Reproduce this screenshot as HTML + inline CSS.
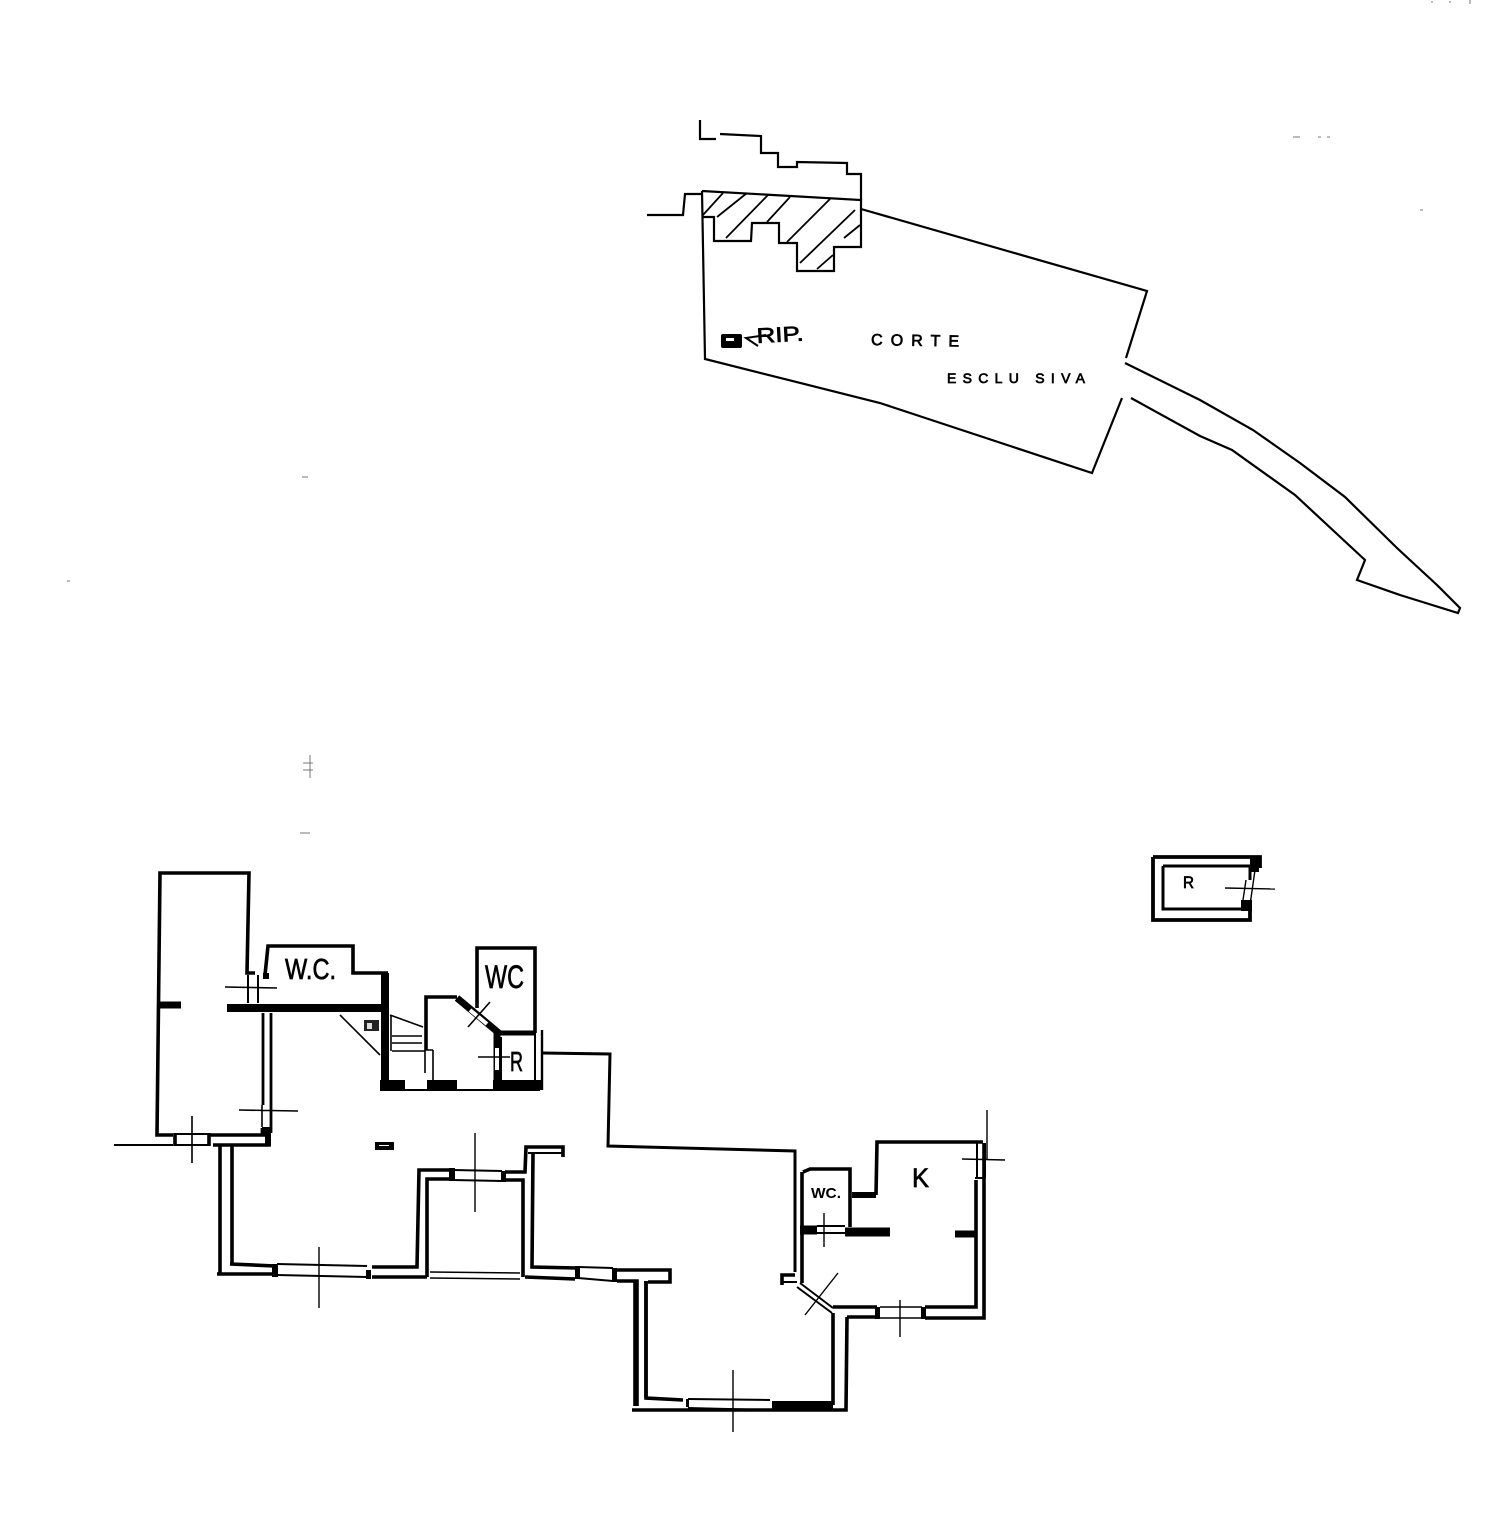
<!DOCTYPE html>
<html><head><meta charset="utf-8"><style>
html,body{margin:0;padding:0;background:#fff}
svg{display:block}
.a{fill:none;stroke:#000;stroke-width:2.2;stroke-linejoin:miter}
.w{fill:none;stroke:#000;stroke-width:3.6}
.m{fill:none;stroke:#000;stroke-width:2}
.t{fill:none;stroke:#000;stroke-width:1.4}
.s{fill:none;stroke:#777;stroke-width:1}
.l{stroke:#000;stroke-width:.7}
text{font-family:"Liberation Sans",sans-serif;fill:#000}
</style></head><body>
<svg width="1485" height="1535" viewBox="0 0 1485 1535" xmlns="http://www.w3.org/2000/svg">
<!-- specks -->
<path class="s" d="M1293 137h7M1318 137h3M1327 137h3M1420 210h3M302 477h6M67 581h3M300 833h10M310 755v23M303 763h10M303 770h10M1432 1v2M1450 1v2M1470 0v4"/>
<!-- SITE -->
<g class="a">
<path d="M700 120V139H716M720 134L761 136V153H778V167H797V162L847 163V174H861V200"/>
<path d="M647 215H683L685 194H702"/>
<path d="M702 191L861 200V247H834V271H797V243H779V223H752L751 241H714V217H702"/>
<path d="M702 191L705 359L880 403L1092 473L1122 398"/>
<path d="M861 209L1147 291L1126 358"/>
<path d="M703 215L723 193M717 217L747 193M726 238L768 195M767 222L790 197M787 242L830 199M800 263L855 210M817 269L833 255M844 238L860 225" stroke-width="1.8"/>
<!-- arrow -->
<path d="M1125 363L1200 400L1253 430L1300 463L1345 497L1397 548L1437 585L1460 608L1458 613L1400 595L1357 580L1365 560L1295 495L1232 450L1200 436L1131 398"/>
</g>
<rect x="721" y="334" width="21" height="14" rx="2" fill="#000"/>
<rect x="726" y="338" width="8" height="3" fill="#fff"/>
<path d="M766 335L746 338L758 346" class="m"/>
<text x="757" y="343" font-size="21" class="l" textLength="47" lengthAdjust="spacingAndGlyphs" transform="rotate(-3 757 343)">RIP.</text>
<text x="871" y="345" font-size="16" class="l" textLength="88" lengthAdjust="spacing" transform="rotate(1 871 345)">CORTE</text>
<text x="947" y="383" font-size="14" class="l" textLength="138" lengthAdjust="spacing">ESCLU SIVA</text>

<!-- PLAN: left room -->
<g class="w">
<path d="M267 1135H209M173 1135H157L160 873H249L247 973H255"/>
<path d="M114 1145H173" stroke-width="2"/>
<path d="M175 1134H209M175 1145H209" stroke-width="2"/>
<path d="M175 1133V1146M209 1133V1146"/>
<path d="M213 1145H269V1131"/>
<path d="M248 975V1003M258 975V1003" stroke-width="2"/>
<path d="M263 1013V1097M271 1013V1133M263 1097V1105M262 1128V1135" stroke-width="2.8"/>
<path d="M220 1146V1273M232 1146V1263"/>
<path d="M265 975L268 946H353V973H388"/>
</g>
<path d="M160 1005h21" stroke="#000" stroke-width="7" fill="none"/>
<path d="M227 1008H385" stroke="#000" stroke-width="8" fill="none"/>
<path d="M385 973V1087" stroke="#000" stroke-width="8" fill="none"/>
<rect x="263" y="973" width="6" height="6" fill="#000"/>
<rect x="262" y="1127" width="9" height="9" fill="#000"/>
<rect x="265" y="1130" width="6" height="16" fill="#000"/>
<path class="m" style="stroke-width:1.6" d="M225 987L277 988M239 1110L298 1111M262 1105V1127M192 1116V1163"/>
<path class="m" style="stroke-width:1.6" d="M340 1015L380 1055M390 1015L423 1027M392 1036H422M392 1043H422M392 1051H425M391 1016V1051"/>
<path class="m" style="stroke-width:1.6" d="M425 1050V1073M433 1050V1080M425 1050H433"/>
<rect x="364" y="1020" width="15" height="11" fill="#222"/>
<rect x="367" y="1023" width="5" height="6" fill="#ddd"/>
<rect x="375" y="1142" width="19" height="8" fill="#000"/>
<rect x="379" y="1145" width="10" height="1" fill="#fff"/>
<!-- stair / WC -->
<g class="w">
<path d="M426 1050V997H457"/>
<path d="M477 1008V948H535V1033"/>
<path d="M535 1033V1083" stroke-width="2"/>
<path d="M542 1030V1090" stroke-width="2.4"/>
<path d="M502 1081H535" stroke-width="2"/>
<path d="M501 1037V1081" stroke-width="2"/>
</g>
<path d="M457 998L500 1034" stroke="#000" stroke-width="7" fill="none"/>
<path d="M470 1010L487 1024" stroke="#fff" stroke-width="4" fill="none"/>
<path d="M500 1033H535" stroke="#000" stroke-width="5" fill="none"/>
<path d="M497 1033V1087" stroke="#000" stroke-width="7" fill="none"/>
<rect x="495" y="1048" width="4" height="22" fill="#fff"/>
<path d="M380 1085H405M427 1085H457M493 1085H542" stroke="#000" stroke-width="10" fill="none"/>
<path d="M380 1090H540" stroke="#000" stroke-width="2" fill="none"/>
<rect x="405" y="1081" width="22" height="7" rx="3" fill="#fff"/>
<path d="M478 1057H510M468 1027L490 1002" class="m" style="stroke-width:1.6"/>
<path d="M542 1053L610 1054L608 1146L795 1151V1272" class="a" style="stroke-width:3"/>
<text x="285" y="979" font-size="29" class="l" textLength="51" lengthAdjust="spacingAndGlyphs">W.C.</text>
<text x="485" y="988" font-size="32" class="l" textLength="39" lengthAdjust="spacingAndGlyphs">WC</text>
<text x="510" y="1071" font-size="28" class="l" textLength="13" lengthAdjust="spacingAndGlyphs">R</text>

<!-- bottom walls -->
<g class="w">
<path d="M217 1274H275M230 1264L275 1266"/>
<path d="M372 1267H417L419 1170H452"/>
<path d="M372 1277H427"/>
<path d="M427 1277V1179H452"/>
<path d="M505 1172H525L526 1147H563V1157"/>
<path d="M528 1153H562" stroke-width="2"/>
<path d="M505 1180H523V1277"/>
<path d="M533 1153L532 1267L577 1268M525 1277L575 1279"/>
<path d="M615 1270H670V1282H648M617 1281H637V1320V1406M646 1281V1398"/>
</g>
<rect x="272" y="1264" width="6" height="13" fill="#000"/>
<rect x="366" y="1270" width="5" height="9" fill="#000"/>
<rect x="449" y="1168" width="6" height="13" fill="#000"/>
<rect x="501" y="1171" width="5" height="11" fill="#000"/>
<rect x="575" y="1266" width="5" height="13" fill="#000"/>
<rect x="612" y="1268" width="5" height="14" fill="#000"/>
<g class="m">
<path d="M277 1264L367 1266M277 1275L367 1277"/>
<path d="M453 1170L502 1171M453 1180L502 1181"/>
<path d="M430 1272L520 1273M430 1278L520 1279" style="stroke-width:1.6"/>
<path d="M578 1267L613 1268M578 1278L613 1281"/>
</g>
<path d="M319 1247V1308M475 1133V1212" class="t"/>

<!-- right part -->
<g class="w">
<path d="M782 1285V1275H795"/>
<path d="M782 1282H797" stroke-width="2"/>
<path d="M803 1172L810 1169H850V1227"/>
<path d="M802 1172V1283"/>
<path d="M876 1195L877 1142H983"/>
<path d="M976 1180V1307H925M984 1143V1318H925"/>
<path d="M833 1307H877M847 1317H877M847 1317L846 1410H632"/>
<path d="M833 1313V1405M635 1280V1406M646 1281V1398L683 1400"/>
</g>
<path d="M977 1143V1177M985 1143V1178M975 1178H985" class="m"/>
<path d="M800 1283L833 1308M797 1287L832 1313" class="m"/>
<path d="M852 1195H876" stroke="#000" stroke-width="6" fill="none"/>
<path d="M800 1230H817M845 1232H890" stroke="#000" stroke-width="9" fill="none"/>
<path d="M817 1226H845M817 1233H845" class="m"/>
<path d="M955 1234H977" stroke="#000" stroke-width="7" fill="none"/>
<rect x="875" y="1307" width="5" height="12" fill="#000"/>
<path d="M880 1307H922M880 1318H922" class="t"/>
<rect x="921" y="1307" width="5" height="12" fill="#000"/>
<path d="M772 1405H833" stroke="#000" stroke-width="8" fill="none"/>
<rect x="686" y="1399" width="3" height="8" fill="#000"/>
<path d="M688 1399L770 1400M688 1408L770 1410" class="m"/>
<path d="M733 1370V1432M900 1300V1337M987 1110V1160M962 1159L1005 1160M824 1213V1247M838 1273L805 1315" class="t"/>
<text x="912" y="1187" font-size="27" class="l" textLength="17" lengthAdjust="spacingAndGlyphs">K</text>
<text x="811" y="1198" font-size="15" font-weight="bold" textLength="30" lengthAdjust="spacingAndGlyphs">WC.</text>

<!-- R room -->
<path d="M1153 857H1260V868M1153 857V920H1250V905" class="w" style="stroke-width:3.8"/>
<path d="M1163 866H1250V880M1163 866V909H1243" class="w" style="stroke-width:3"/>
<rect x="1250" y="858" width="9" height="14" fill="#000"/>
<rect x="1241" y="900" width="11" height="11" fill="#000"/>
<path d="M1225 888L1275 889" class="t"/>
<path d="M1246 880L1243 900M1255 870L1250 905" class="t"/>
<text x="1183" y="888" font-size="17" class="l" textLength="11" lengthAdjust="spacingAndGlyphs">R</text>
</svg>
</body></html>
